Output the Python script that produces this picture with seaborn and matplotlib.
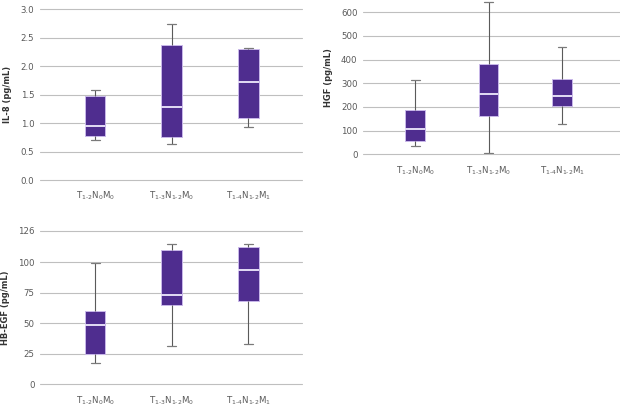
import numpy as np
import pandas as pd
import matplotlib
matplotlib.use("Agg")
import matplotlib.pyplot as plt
import seaborn as sns

# five-number summaries: min, q1, median, q3, max
groups = [r"$\mathregular{T_{1\text{-}2}N_0M_0}$",
          r"$\mathregular{T_{1\text{-}3}N_{1\text{-}2}M_0}$",
          r"$\mathregular{T_{1\text{-}4}N_{1\text{-}2}M_1}$"]

il8_vals = [[0.70, 0.77, 0.95, 1.47, 1.58],
            [0.63, 0.76, 1.29, 2.38, 2.74],
            [0.94, 1.09, 1.72, 2.30, 2.32]]
hgf_vals = [[35, 55, 106, 189, 312],
            [7, 162, 253, 380, 642],
            [127, 204, 248, 320, 452]]
hbegf_vals = [[17.6, 24.7, 48.8, 59.9, 99.2],
              [31.7, 65.1, 73.5, 110.4, 114.7],
              [33.4, 68.1, 93.5, 112.3, 115.2]]

il8_ticks = [0.0, 0.5, 1.0, 1.5, 2.0, 2.5, 3.0]
hgf_ticks = [0, 100, 200, 300, 400, 500, 600]
hbegf_ticks = [0, 25, 50, 75, 100, 126]

box_color = "#4F2D8F"
grid_color = "#BFBFBF"
text_color = "#595959"

sns.set_style("white")
plt.rcParams['font.family'] = ['DejaVu Sans']


def make_df(vals):
    rows = []
    for g, v in zip(groups, vals):
        for x in v:
            rows.append({"group": g, "value": x})
    return pd.DataFrame(rows)


def draw(ax, vals, ticks, ticklabels, ylim, xlim, ylabel):
    df = make_df(vals)
    sns.boxplot(data=df, x="group", y="value", order=groups, ax=ax,
                color=box_color, saturation=1, width=0.27, whis=np.inf,
                linewidth=0.8, capwidths=0.12,
                boxprops=dict(facecolor=box_color, edgecolor="#C9B8EA", linewidth=0.7),
                medianprops=dict(color="#E4DCF5", linewidth=1.4),
                whiskerprops=dict(color="#5A5A5A", linewidth=0.8),
                capprops=dict(color="#7A7A7A", linewidth=0.9))
    ax.set_ylim(*ylim)
    ax.set_xlim(*xlim)
    ax.set_yticks(ticks)
    ax.set_yticklabels(ticklabels)
    ax.yaxis.grid(True, color=grid_color, linewidth=0.8)
    for gl in ax.get_ygridlines():
        gl.set_clip_on(False)
    ax.set_axisbelow(True)
    for s in ax.spines.values():
        s.set_visible(False)
    ax.tick_params(axis="both", length=0, labelsize=6.2, colors=text_color)
    ax.tick_params(axis="y", pad=4)
    ax.tick_params(axis="x", pad=7)
    ax.set_xlabel("")
    ax.set_ylabel(ylabel, fontsize=6, fontweight="bold", color="#333333", labelpad=6)


fig = plt.figure(figsize=(6.2, 4.11), dpi=100)
ax1 = fig.add_axes([0.0645, 0.562, 0.4226, 0.4155])
ax2 = fig.add_axes([0.5855, 0.6246, 0.4145, 0.3745])
ax3 = fig.add_axes([0.0645, 0.065, 0.4226, 0.3737])

draw(ax1, il8_vals, il8_ticks, ["%.1f" % t for t in il8_ticks], (0, 3.0), (-0.72, 2.70), "IL-8 (pg/mL)")
draw(ax2, hgf_vals, hgf_ticks, [str(t) for t in hgf_ticks], (0, 650), (-0.71, 2.79), "HGF (pg/mL)")
draw(ax3, hbegf_vals, hbegf_ticks, [str(t) for t in hbegf_ticks], (0, 126), (-0.72, 2.70), "HB-EGF (pg/mL)")

fig.savefig("out.png", dpi=100)
